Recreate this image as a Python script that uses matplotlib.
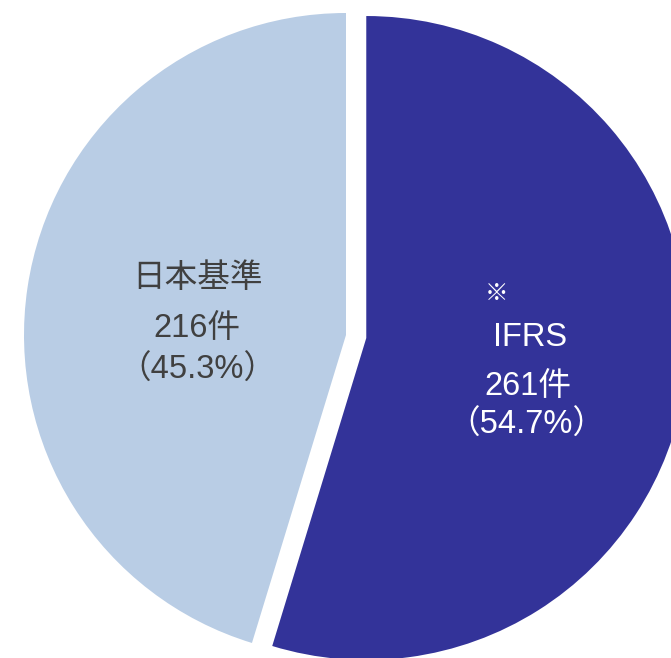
import matplotlib
matplotlib.use("Agg")
import matplotlib.pyplot as plt

categories = ["IFRS", "日本基準"]
counts = [261, 216]
percents = [54.7, 45.3]
colors = ["#333399", "#B9CDE5"]
text_colors = ["white", "#404040"]

W, H = 671, 658
fig = plt.figure(figsize=(W / 100, H / 100), dpi=100)
ax = fig.add_axes([0, 0, 1, 1])

R = 322
cx, cy = 346, H - 335
ax.pie(counts, colors=colors, startangle=90, counterclock=False,
       center=(cx, cy), radius=R, explode=[20.5, 0],
       wedgeprops=dict(linewidth=0))
ax.set_xlim(0, W)
ax.set_ylim(0, H)
ax.set_aspect("equal")
ax.axis("off")

fam = ["Liberation Sans", "Noto Sans CJK JP", "DejaVu Sans"]
fs = 23.5

def put(x, y, s, color, size=fs):
    ax.text(x, H - y, s, ha="center", va="center", fontsize=size,
            color=color, family=fam)

# IFRS label
put(497, 294, "※", text_colors[0], size=17)
put(530, 337, categories[0], text_colors[0])
put(528, 387, f"{counts[0]}件", text_colors[0])
put(526, 425, f"（{percents[0]}%）", text_colors[0])

# Japanese GAAP label
put(197, 278, categories[1], text_colors[1])
put(197, 329, f"{counts[1]}件", text_colors[1])
put(197, 370, f"（{percents[1]}%）", text_colors[1])

fig.savefig("out.png", dpi=100)
